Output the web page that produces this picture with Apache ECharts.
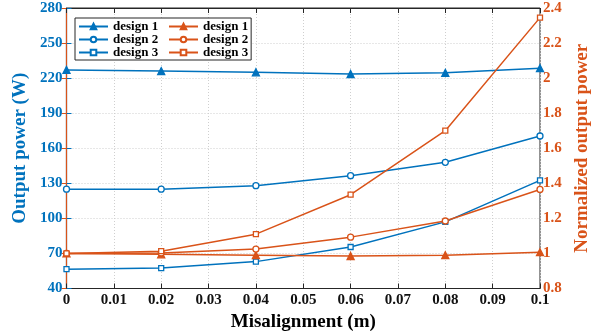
<!DOCTYPE html>
<html>
<head>
<meta charset="utf-8">
<script src="https://cdn.jsdelivr.net/npm/echarts@6/dist/echarts.min.js"></script>
<style>
  html, body { margin: 0; padding: 0; background: #fff; }
  #chart { width: 594px; height: 331px; }
</style>
</head>
<body>
<div id="chart"></div>
<script>
// Misalignment (m) sampled for each design
const misalignment = [0, 0.02, 0.04, 0.06, 0.08, 0.1];

// Output power (W), left axis
const powerDesign1 = [227, 226, 225, 223.5, 224.5, 228.5];
const powerDesign2 = [125, 125, 128, 136.5, 148, 170.5];
const powerDesign3 = [56.5, 57.5, 63, 75.5, 97, 132.5];

// Output power normalised to the aligned case, right axis
const normDesign1 = [1, 0.995, 0.99, 0.985, 0.99, 1.007];
const normDesign2 = [1, 1.003, 1.025, 1.093, 1.185, 1.365];
const normDesign3 = [1, 1.013, 1.11, 1.335, 1.70, 2.345];

const designLabels = ['design 1', 'design 2', 'design 3'];

const BLUE = '#0072BD';
const ORANGE = '#D95319';
const DARK = '#262626';
const FONT = '"Liberation Serif", "DejaVu Serif", serif';

const markers = [
  { symbol: 'triangle', size: 7, fill: true },
  { symbol: 'circle', size: 6, fill: false },
  { symbol: 'rect', size: 5, fill: false }
];

function pairs(ys) {
  return misalignment.map((x, i) => [x, ys[i]]);
}

function makeSeries(prefix, label, values, color, marker, yAxisIndex) {
  return {
    name: prefix + label,
    type: 'line',
    yAxisIndex: yAxisIndex,
    data: pairs(values),
    symbol: marker.symbol,
    symbolSize: marker.size,
    showAllSymbol: true,
    lineStyle: { color: color, width: 1.5 },
    itemStyle: {
      color: marker.fill ? color : '#fff',
      borderColor: color,
      borderWidth: 1.3
    },
    emphasis: { disabled: true },
    animation: false
  };
}

const powerSets = [powerDesign1, powerDesign2, powerDesign3];
const normSets = [normDesign1, normDesign2, normDesign3];

const series = [];
designLabels.forEach((lab, i) => series.push(makeSeries('P|', lab, powerSets[i], BLUE, markers[i], 0)));
designLabels.forEach((lab, i) => series.push(makeSeries('N|', lab, normSets[i], ORANGE, markers[i], 1)));

const legendText = { fontFamily: FONT, fontWeight: 'bold', fontSize: 13, color: '#000', lineHeight: 13 };

const chart = echarts.init(document.getElementById('chart'), null, { renderer: 'canvas' });

chart.setOption({
  backgroundColor: '#fff',
  animation: false,
  grid: {
    left: 66.5, right: 54, top: 8, bottom: 42.5,
    outerBoundsMode: 'none',
    containLabel: false,
    show: true, borderColor: DARK, borderWidth: 1
  },
  legend: {
    orient: 'vertical',
    left: 75, top: 18,
    height: 48,
    padding: [2, 3, 1, 3],
    itemWidth: 29,
    itemHeight: 7,
    itemGap: 0,
    borderColor: DARK,
    borderWidth: 1,
    backgroundColor: '#fff',
    data: series.map(s => s.name),
    // left column (power) gets a wider text box so the second column sits clear of it
    formatter: name => {
      const [group, label] = name.split('|');
      return group === 'P' ? '{l|' + label + '}' : '{r|' + label + '}';
    },
    textStyle: Object.assign({}, legendText, {
      rich: {
        l: Object.assign({ width: 55 }, legendText),
        r: Object.assign({}, legendText)
      }
    })
  },
  xAxis: [{
    type: 'value',
    min: 0, max: 0.1, interval: 0.01,
    name: 'Misalignment (m)',
    nameLocation: 'middle',
    nameGap: 21,
    nameTextStyle: { fontFamily: FONT, fontWeight: 'bold', fontSize: 19, color: '#000' },
    axisLine: { lineStyle: { color: DARK, width: 1 } },
    axisTick: { inside: true, length: 5, lineStyle: { color: DARK } },
    axisLabel: { fontFamily: FONT, fontWeight: 'bold', fontSize: 15, color: '#111', margin: 4 },
    splitLine: { show: true, lineStyle: { color: '#cfcfcf', type: [1, 2], width: 1 } }
  }, {
    type: 'value',
    position: 'top',
    min: 0, max: 0.1, interval: 0.01,
    axisLine: { show: true, lineStyle: { color: DARK, width: 1 } },
    axisTick: { show: true, inside: true, length: 5, lineStyle: { color: DARK } },
    axisLabel: { show: false },
    splitLine: { show: false }
  }],
  yAxis: [{
    type: 'value',
    min: 40, max: 280, interval: 30,
    name: 'Output power (W)',
    nameLocation: 'middle',
    nameGap: 26,
    nameTextStyle: { fontFamily: FONT, fontWeight: 'bold', fontSize: 19, color: BLUE },
    axisLine: { show: true, lineStyle: { color: BLUE, width: 1.2 } },
    axisTick: { show: true, inside: true, length: 5, lineStyle: { color: BLUE } },
    axisLabel: { fontFamily: FONT, fontWeight: 'bold', fontSize: 15, color: BLUE, margin: 4 },
    splitLine: { show: true, lineStyle: { color: '#cfcfcf', type: [1, 2], width: 1 } }
  }, {
    type: 'value',
    position: 'right',
    min: 0.8, max: 2.4, interval: 0.2,
    name: 'Normalized output power',
    nameLocation: 'middle',
    nameGap: 26,
    nameRotate: 90,
    nameTextStyle: { fontFamily: FONT, fontWeight: 'bold', fontSize: 19, color: ORANGE },
    axisLine: { show: true, lineStyle: { color: ORANGE, width: 1.2 } },
    axisTick: { show: true, inside: true, length: 5, lineStyle: { color: ORANGE } },
    axisLabel: { fontFamily: FONT, fontWeight: 'bold', fontSize: 15, color: ORANGE, margin: 3 },
    splitLine: { show: false }
  }],
  series: series
});
</script>
</body>
</html>
